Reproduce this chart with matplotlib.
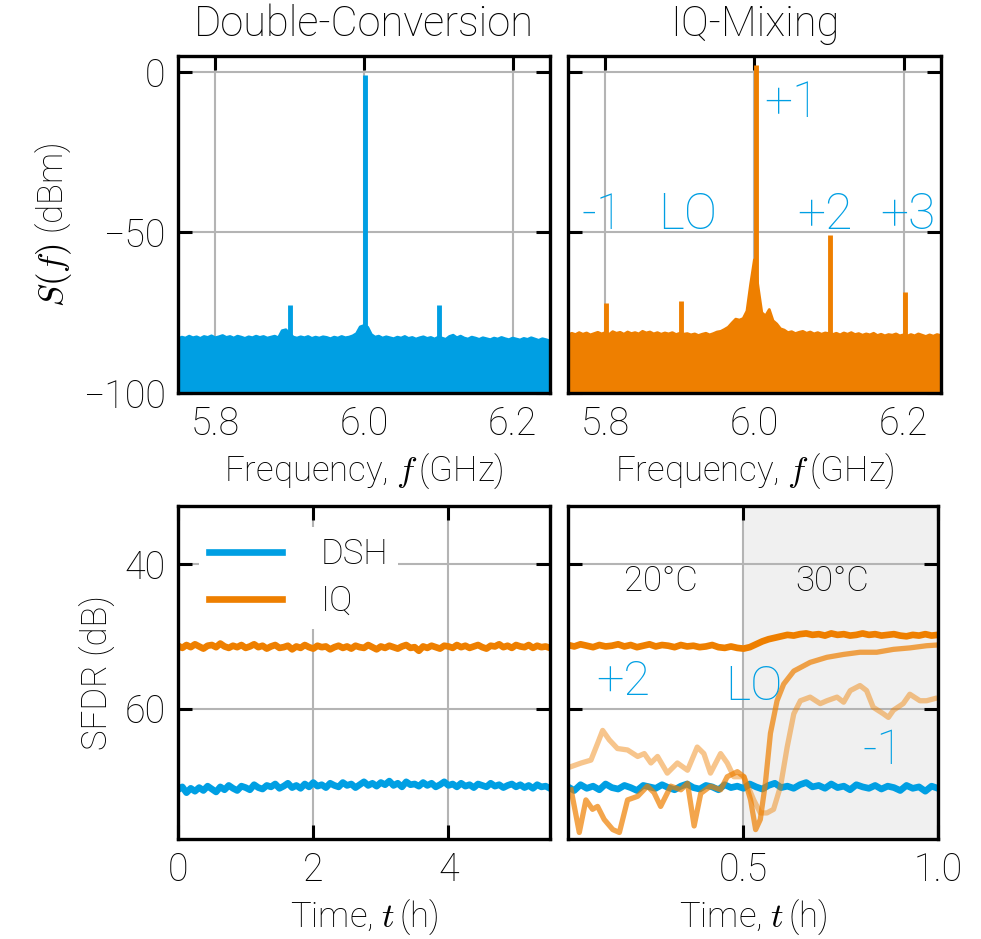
import matplotlib
matplotlib.use("Agg")
import matplotlib.pyplot as plt
import numpy as np

plt.rcParams['font.family'] = ['Roboto', 'DejaVu Sans']
plt.rcParams['font.weight'] = 'light'
plt.rcParams['axes.titleweight'] = 'light'
plt.rcParams['axes.labelweight'] = 'light'
plt.rcParams['mathtext.fontset'] = 'cm'
plt.rcParams['font.size'] = 25

BLUE = '#009FE3'
ORANGE = '#EE7F00'

# --- spectra (dBm), noise floor sampled every 5 MHz from 5.75 to 6.25 GHz
dsh_floor = [
    -83.2, -82.6, -82.9, -82.3, -82.8, -82.5, -83.0, -82.4, -82.7, -82.2,
    -82.8, -82.5, -82.1, -82.7, -82.4, -82.9, -82.3, -82.6, -83.0, -82.5,
    -82.8, -82.3, -82.7, -82.4, -82.9, -82.6, -82.3, -82.8, -80.6, -80.3,
    -81.5, -82.6, -82.9, -82.5, -82.8, -82.4, -83.0, -82.6, -82.9, -82.5,
    -82.7, -83.1, -82.6, -82.9, -82.4, -82.8, -82.6, -82.2, -81.5, -79.4,
    -79.0, -79.5, -81.8, -82.6, -82.3, -82.9, -82.5, -82.8, -83.1, -82.6,
    -82.9, -82.4, -83.0, -82.7, -83.2, -82.8, -82.5, -83.0, -82.7, -83.2,
    -82.6, -82.9, -83.3, -82.4, -82.0, -82.8, -82.3, -82.9, -83.2, -82.6,
    -82.9, -83.3, -82.8, -83.1, -83.4, -82.9, -83.2, -82.7, -83.1, -83.4,
    -82.9, -83.2, -83.5, -83.0, -83.3, -82.8, -83.2, -83.6, -83.1, -83.4,
    -83.8]
iq_floor = [
    -82.0, -81.4, -81.8, -81.2, -81.7, -81.3, -81.9, -81.5, -81.1, -81.6,
    -81.2, -81.8, -80.9, -81.4, -81.1, -81.7, -81.0, -81.5, -81.2, -81.6,
    -80.8, -81.3, -81.0, -81.6, -81.2, -81.7, -81.3, -81.6, -81.2, -81.8,
    -81.4, -81.7, -81.5, -81.9, -81.6, -82.1, -81.7, -81.4, -81.9, -81.5,
    -81.0, -80.8, -80.2, -79.5, -78.2, -77.0, -77.3, -76.8, -74.5, -66.0,
    -58.5, -67.0, -75.0, -76.0, -74.0, -77.5, -78.5, -80.0, -80.4, -81.2,
    -80.9, -81.5, -81.1, -80.8, -81.4, -81.0, -81.6, -81.2, -81.7, -81.3,
    -81.5, -81.8, -81.4, -81.9, -81.3, -81.7, -81.2, -81.8, -81.5, -82.0,
    -81.6, -81.9, -81.4, -82.1, -81.7, -82.2, -81.8, -82.0, -81.6, -82.2,
    -81.9, -82.3, -81.8, -82.2, -81.6, -82.0, -82.4, -81.9, -82.3, -81.8,
    -82.1]

dsh_spur_f = [5.901, 6.001, 6.101]
dsh_spur_level = [-72.6, -0.9, -72.6]
iq_spur_f = [5.801, 5.902, 6.002, 6.102, 6.202]
iq_spur_level = [-72.0, -71.5, 2.3, -50.7, -68.4]
iq_spur_names = ['-1', 'LO', '+1', '+2', '+3']
iq_name_f = [5.796, 5.910, 6.050, 6.094, 6.206]
iq_name_level = [-44.5, -44.5, -9.9, -44.5, -44.5]

# --- SFDR over 5.5 h (dB)
long_iq = [
    51.3, 51.6, 51.2, 51.5, 51.1, 51.4, 51.7, 51.3, 51.2, 51.5, 51.0, 51.4,
    51.6, 51.3, 51.5, 51.2, 51.6, 51.4, 51.1, 51.5, 51.3, 51.7, 51.4, 51.2,
    51.6, 51.5, 51.3, 51.8, 51.4, 51.6, 51.2, 51.5, 51.7, 51.3, 51.5, 51.4,
    51.8, 51.5, 51.3, 51.6, 51.4, 51.7, 51.3, 51.5, 51.6, 51.2, 51.5, 51.8,
    51.4, 51.6, 51.3, 51.5, 51.7, 51.4, 51.2, 51.6, 51.5, 52.0, 51.4, 51.6,
    51.3, 51.5, 51.7, 51.3, 51.4, 51.6, 51.2, 51.5, 51.3, 51.6, 51.4, 51.2,
    51.5, 51.7, 51.3, 51.4, 51.1, 51.5, 51.3, 51.6, 51.2, 51.4, 51.5, 51.2,
    51.6, 51.3, 51.5, 51.4, 51.6]
long_dsh = [
    71.2, 70.8, 71.6, 71.0, 71.4, 70.9, 71.3, 70.7, 71.1, 71.5, 70.8, 71.2,
    70.6, 71.0, 71.3, 70.7, 70.9, 71.2, 70.5, 70.9, 71.1, 70.6, 70.8, 70.4,
    71.0, 70.7, 70.3, 70.9, 70.6, 71.0, 70.4, 70.8, 70.2, 70.7, 70.5, 70.9,
    70.3, 70.6, 70.8, 70.2, 70.6, 70.4, 70.9, 70.5, 70.1, 70.6, 70.3, 70.7,
    70.2, 70.5, 70.0, 70.6, 70.3, 70.8, 70.1, 70.5, 70.4, 70.7, 70.2, 70.6,
    70.3, 70.8, 70.5, 70.1, 70.6, 70.4, 70.8, 70.3, 70.7, 70.5, 70.9, 70.4,
    70.6, 70.8, 70.3, 70.7, 70.5, 70.9, 70.6, 70.4, 70.8, 70.5, 70.9, 70.6,
    71.0, 70.5, 70.8, 70.7, 71.0]

# --- SFDR over 1 h with temperature step (dB)
short_dsh = [
    70.8, 71.3, 70.5, 71.0, 70.7, 71.2, 70.4, 70.9, 71.1, 70.6, 70.9, 71.3,
    70.6, 70.8, 71.0, 70.5, 70.9, 71.2, 70.7, 70.4, 70.9, 71.1, 70.6, 70.8,
    71.2, 70.5, 70.9, 70.7, 71.0, 70.4, 70.8, 71.1, 70.6, 70.3, 70.9, 70.7,
    71.0, 70.5, 70.2, 70.8, 70.6, 71.0, 70.4, 70.9, 70.7, 71.2, 70.5, 70.8,
    71.0, 70.6, 71.1, 70.7, 70.9, 71.3, 70.6, 71.0, 70.8, 71.4, 70.7, 71.0]
short_plus2 = [
    51.2, 51.4, 51.1, 51.3, 51.5, 51.2, 51.4, 51.3, 51.1, 51.4, 51.2, 51.5,
    51.3, 51.1, 51.4, 51.2, 51.3, 51.5, 51.2, 51.4, 51.3, 51.5, 51.4, 51.2,
    51.5, 51.6, 51.4, 51.6, 51.7, 51.5, 51.1, 50.7, 50.4, 50.2, 50.0, 49.8,
    49.9, 49.7, 49.6, 49.8, 49.7, 49.9, 49.6, 49.8, 49.7, 49.9, 49.8, 49.6,
    49.8, 49.7, 49.9, 49.8, 49.7, 49.9, 50.0, 49.8, 49.9, 49.7, 49.9, 49.8]
lo_t = [0.058, 0.079, 0.096, 0.113, 0.126, 0.143, 0.165, 0.182, 0.203, 0.229,
        0.254, 0.271, 0.288, 0.314, 0.340, 0.357, 0.374, 0.391, 0.416, 0.442,
        0.459, 0.485, 0.502, 0.519, 0.532, 0.544, 0.557, 0.570, 0.587, 0.604,
        0.630, 0.672, 0.715, 0.758, 0.800, 0.843, 0.886, 0.928, 0.971, 0.999]
lo_sfdr = [71.2, 77.1, 72.6, 73.9, 73.5, 75.3, 76.7, 77.1, 72.6, 72.1,
           70.7, 71.6, 73.5, 70.7, 71.2, 70.3, 76.2, 71.7, 70.7, 71.2,
           69.4, 68.7, 69.4, 72.6, 76.7, 75.3, 70.3, 63.4, 58.9, 56.6,
           54.8, 53.6, 52.9, 52.5, 52.2, 52.2, 51.8, 51.6, 51.3, 51.2]
m1_t = [0.058, 0.084, 0.109, 0.126, 0.139, 0.156, 0.177, 0.203, 0.229, 0.246,
        0.263, 0.280, 0.305, 0.331, 0.357, 0.382, 0.399, 0.416, 0.442, 0.459,
        0.476, 0.502, 0.527, 0.544, 0.561, 0.578, 0.596, 0.613, 0.630, 0.647,
        0.672, 0.698, 0.715, 0.741, 0.758, 0.775, 0.800, 0.817, 0.834, 0.860,
        0.873, 0.886, 0.911, 0.928, 0.954, 0.971, 0.992]
m1_sfdr = [68.0, 67.5, 67.1, 64.8, 63.0, 64.3, 65.5, 65.7, 66.6, 66.2,
           67.5, 66.6, 68.9, 67.5, 68.5, 65.3, 66.2, 68.9, 66.2, 67.5,
           69.4, 69.4, 72.6, 74.4, 74.4, 73.9, 70.7, 65.3, 60.7, 58.9,
           58.4, 59.3, 58.9, 58.4, 59.1, 57.5, 56.8, 57.5, 59.8, 60.7,
           61.2, 60.2, 59.3, 58.0, 58.9, 58.9, 58.6]

fig = plt.figure(figsize=(9.81, 9.39), dpi=100)
ax_dc = fig.add_axes([0.1815, 0.5815, 0.379, 0.359])
ax_iq = fig.add_axes([0.579, 0.5815, 0.380, 0.359])
ax_long = fig.add_axes([0.1815, 0.1065, 0.379, 0.3546])
ax_short = fig.add_axes([0.579, 0.1065, 0.377, 0.3546])


def style(ax):
    ax.set_axisbelow(True)
    ax.grid(True, color='#b4b4b4', lw=1.5)
    ax.tick_params(direction='in', top=True, right=True, length=10, width=2.2,
                   pad=9, labelsize=27)
    for s in ax.spines.values():
        s.set_linewidth(2.4)


# spectra
for ax, floor, sf, sl, col in [(ax_dc, dsh_floor, dsh_spur_f, dsh_spur_level, BLUE),
                               (ax_iq, iq_floor, iq_spur_f, iq_spur_level, ORANGE)]:
    f = np.linspace(5.75, 6.25, len(floor))
    ax.fill_between(f, -100, floor, color=col, lw=0)
    ax.plot(f, floor, color=col, lw=2)
    ax.vlines(sf, -100, sl, color=col, lw=3.5)
    ax.set_xlim(5.75, 6.25)
    ax.set_ylim(-100, 5)
    ax.set_xticks([5.8, 6.0, 6.2])
    ax.set_xticklabels(['5.8', '6.0', '6.2'])
    ax.set_yticks([0, -50, -100])
    ax.set_xlabel(r'Frequency, $f\,$(GHz)', labelpad=6)
    style(ax)

ax_dc.set_yticklabels(['0', '\u221250', '\u2212100'])
ax_dc.set_ylabel(r'$S(f)$ (dBm)', labelpad=6)
ax_iq.set_yticklabels([])
ax_dc.set_title('Double-Conversion', pad=14)
ax_iq.set_title('IQ-Mixing', pad=14)
for name, x, y in zip(iq_spur_names, iq_name_f, iq_name_level):
    ax_iq.text(x, y, name, color=BLUE, fontsize=36, ha='center', va='center')

# SFDR, long run
t_long = np.linspace(0, 5.5, len(long_dsh))
ax_long.plot(t_long, long_dsh, color=BLUE, lw=4.8, label='DSH')
ax_long.plot(np.linspace(0, 5.5, len(long_iq)), long_iq, color=ORANGE, lw=4.8, label='IQ')
ax_long.set_xlim(0, 5.5)
ax_long.set_ylim(78, 32)
ax_long.set_xticks([0, 2, 4])
ax_long.set_yticks([40, 60])
ax_long.set_xlabel(r'Time, $t\,$(h)', labelpad=6)
ax_long.set_ylabel('SFDR (dB)', labelpad=6)
style(ax_long)
leg = ax_long.legend(loc='upper left', handlelength=2.1, handletextpad=1.1,
                     fancybox=False, framealpha=1, edgecolor='none',
                     borderpad=0.3, labelspacing=0.4, borderaxespad=0.6)

# SFDR, temperature step
t_short = np.linspace(0.05, 1.0, len(short_dsh))
ax_short.axvspan(0.5, 1.0, color='#f0f0f0', zorder=0.1, lw=0)
ax_short.plot(t_short, short_dsh, color=BLUE, lw=4.8)
ax_short.plot(m1_t, m1_sfdr, color=ORANGE, alpha=0.45, lw=3.8)
ax_short.plot(lo_t, lo_sfdr, color=ORANGE, alpha=0.7, lw=3.8)
ax_short.plot(np.linspace(0.05, 1.0, len(short_plus2)), short_plus2, color=ORANGE, lw=4.8)
ax_short.set_xlim(0.05, 1.0)
ax_short.set_ylim(78, 32)
ax_short.set_xticks([0.5, 1.0])
ax_short.set_xticklabels(['0.5', '1.0'])
ax_short.set_yticks([40, 60])
ax_short.set_yticklabels([])
ax_short.set_xlabel(r'Time, $t\,$(h)', labelpad=6)
style(ax_short)
ax_short.text(0.29, 42.4, '20°C', ha='center', va='center')
ax_short.text(0.729, 42.4, '30°C', ha='center', va='center')
ax_short.text(0.192, 56.3, '+2', color=BLUE, fontsize=35, ha='center', va='center')
ax_short.text(0.528, 57.0, 'LO', color=BLUE, fontsize=35, ha='center', va='center')
ax_short.text(0.859, 65.8, '-1', color=BLUE, fontsize=35, ha='center', va='center')

fig.savefig('out.png', dpi=100)
